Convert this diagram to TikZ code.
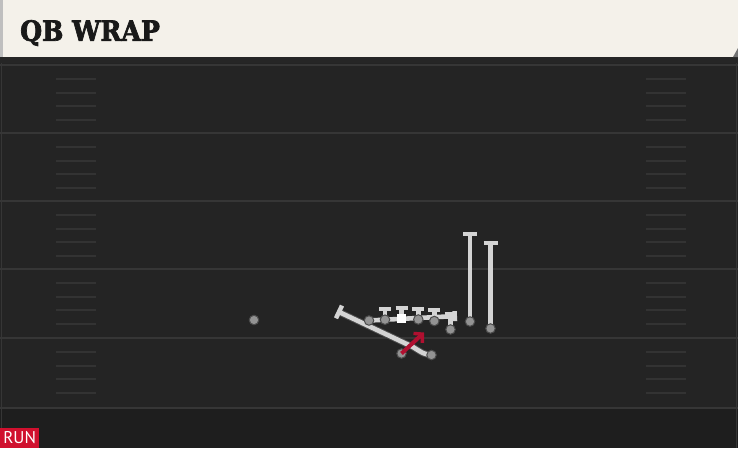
\documentclass[tikz,border=0pt]{standalone}
\usepackage{fontspec}
\usetikzlibrary{arrows.meta,positioning}
\newfontfamily\titlefont[FakeBold=2.5]{DejaVu Serif Condensed}
\newfontfamily\tagfont{PT Sans}
\definecolor{headbg}{HTML}{F4F1EA}
\definecolor{fieldbg}{HTML}{242424}
\definecolor{fieldlow}{HTML}{1E1E1E}
\definecolor{yardline}{HTML}{363636}
\definecolor{hashgray}{HTML}{333333}
\definecolor{routegray}{HTML}{D4D4D4}
\definecolor{dotgray}{HTML}{939393}
\definecolor{runred}{HTML}{D0102E}
\definecolor{arrowred}{HTML}{B01030}
\pgfdeclarelayer{field}
\pgfdeclarelayer{routes}
\pgfsetlayers{field,routes,main}

\begin{document}
\begin{tikzpicture}[x=1pt,y=-1pt,
  player/.style={circle,fill=dotgray,draw=black!70,line width=1pt,minimum size=9.5pt,inner sep=0pt},
  snapper/.style={rectangle,fill=white,minimum size=9pt,inner sep=0pt},
  route/.style={draw=routegray,line width=4.6pt,
    preaction={draw=black!70,line width=6.6pt}},
  block/.style={-{Bar[width=#1,line width=4.4pt]}},
  block/.default=12pt,
  hash/.style={draw=hashgray,line width=1.8pt}]

\useasboundingbox (0,0) rectangle (738,448);

\begin{pgfonlayer}{field}
  % field and yard lines
  \fill[fieldbg] (0,58) rectangle (738,408);
  \fill[fieldlow] (0,408) rectangle (738,448);
  \fill[black!85] (0,57) rectangle (738,63);
  \foreach \y in {65,133,201,269,338,408}
    \draw[yardline,line width=2pt] (0,\y) -- (738,\y);
  \foreach \y in {65,133,201,269,338}
    \foreach \d in {14,28,41,55} {
      \draw[hash] (56,\y+\d) -- (96,\y+\d);
      \draw[hash] (646,\y+\d) -- (686,\y+\d);
    }
  \draw[yardline,line width=1pt] (1.5,63) -- (1.5,428);
  \draw[yardline,line width=1pt] (736.5,63) -- (736.5,448);
  % header
  \fill[headbg] (3,0) rectangle (738,57);
  \fill[black!25] (0,0) rectangle (3,57);
  \fill[black!55] (738,48) -- (738,57) -- (733,57) -- cycle;
\end{pgfonlayer}

\node[anchor=west,inner sep=0pt,text=black!90] (title) at (20,33)
  {\titlefont\fontsize{28}{28}\selectfont\bfseries QB WRAP};

\node[fill=runred,text=white,anchor=south west,minimum width=39pt,minimum height=20pt,inner sep=0pt] (tag) at (0,448)
  {\tagfont\fontsize{17}{17}\selectfont RUN};

% players
\node[player]  (lwr) at (254,320)     {};
\node[player]  (lt)  at (369,320.5)   {};
\node[player]  (lg)  at (385,319.7)   {};
\node[snapper] (c)   at (401.7,318.5) {};
\node[player]  (rg)  at (418.3,319.5) {};
\node[player]  (rt)  at (434.3,321)   {};
\node[player]  (te)  at (450.5,329.5) {};
\node[player]  (wra) at (470,321.5)   {};
\node[player]  (wrb) at (490.5,328.5) {};
\node[player]  (rb)  at (431.5,355)   {};
\node[player]  (qb)  at (401.5,353.5) {};

% route ends
\coordinate (ltend)  at (457,316);
\coordinate (lgend)  at (385,306.5);
\coordinate (cend)   at (401.7,306);
\coordinate (rgend)  at (418.3,306.5);
\coordinate (rtend)  at (434.3,308);
\coordinate (teend)  at (450.5,312);
\coordinate (wraend) at (470,232);
\coordinate (wrbend) at (490.5,241);
\coordinate (rbbend) at (413,347);
\coordinate (rbend)  at (337,311);
\coordinate (qbend)  at (424,332.5);

\begin{pgfonlayer}{routes}
  \path[route]
    (lt.center)  edge [block=10pt] (ltend)
    (lg.center)  edge [block]      (lgend)
    (c.center)   edge [block]      (cend)
    (rg.center)  edge [block]      (rgend)
    (rt.center)  edge [block]      (rtend)
    (te.center)  edge [block]      (teend)
    (wra.center) edge [block=14pt] (wraend)
    (wrb.center) edge [block=14pt] (wrbend);
  \draw[route,block=14pt] (rb.center) .. controls (424,354) .. (rbbend) -- (rbend);
\end{pgfonlayer}

\draw[arrowred,line width=4pt,-{Straight Barb[length=6pt,width=13pt,line width=3.4pt]}]
  (qb.center) -- (qbend);

\end{tikzpicture}
\end{document}
